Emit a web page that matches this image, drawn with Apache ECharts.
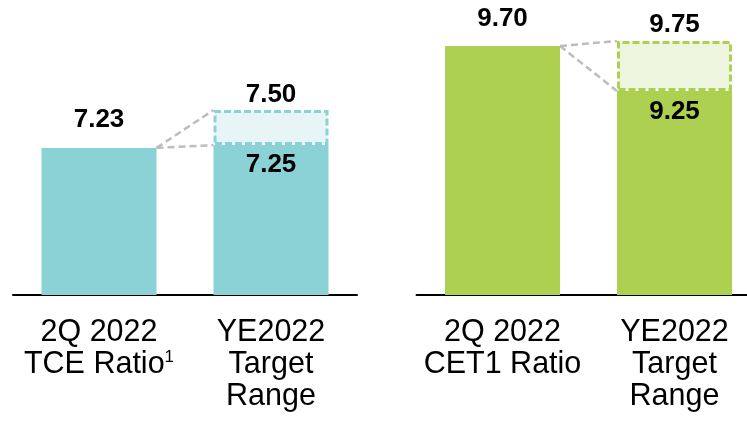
<!DOCTYPE html>
<html>
<head>
<meta charset="utf-8">
<script src="https://cdn.jsdelivr.net/npm/echarts@6/dist/echarts.min.js"></script>
<style>
  html, body { margin: 0; padding: 0; background: #ffffff; }
  #chart { width: 747px; height: 422px; }
</style>
</head>
<body>
<div id="chart"></div>
<script>
// Capital ratios: current level vs. year-end target range
const tceCategories = ['2Q 2022\nTCE Ratio{sup|1}', 'YE2022\nTarget\nRange'];
const cet1Categories = ['2Q 2022\nCET1 Ratio', 'YE2022\nTarget\nRange'];

const tceActual = [7.23, null];
const tceTargetLow = [null, 7.25];
const tceTargetHigh = [null, 7.50];

const cet1Actual = [9.70, null];
const cet1TargetLow = [null, 9.25];
const cet1TargetHigh = [null, 9.75];

const FONT = "'Liberation Sans', Arial, sans-serif";
const BAR_W = 115;

const TEAL = '#8BD2D6';
const TEAL_LIGHT = '#E7F5F6';
const GREEN = '#ADD051';
const GREEN_LIGHT = '#EEF5DF';
const CONNECTOR = '#BDBDBD';

function fmt(v) { return v.toFixed(2); }

// Builds the series for one panel: solid bars, dashed target band, connector lines
function panelSeries(idx, actual, low, high, color, light, dist) {
  const solid = actual.map((v, i) => {
    if (v != null) {
      return { value: v, label: { show: true, position: 'top', distance: dist.top, formatter: () => fmt(v) } };
    }
    return { value: low[i], label: { show: true, position: 'insideTop', distance: dist.inside, formatter: () => fmt(low[i]) } };
  });
  const band = high.map((h, i) => (h == null ? '-' : {
    value: h - low[i],
    label: { show: true, position: 'top', distance: dist.band, formatter: () => fmt(h) }
  }));
  const a = actual.findIndex(v => v != null);
  const t = high.findIndex(v => v != null);
  const links = [
    [a, actual[a], t, high[t]],
    [a, actual[a], t, low[t]]
  ];
  const labelStyle = { fontFamily: FONT, fontSize: 26, fontWeight: 'bold', color: '#000000' };
  return [
    {
      type: 'bar', xAxisIndex: idx, yAxisIndex: idx, stack: 'p' + idx,
      barWidth: BAR_W, data: solid,
      itemStyle: { color: color },
      label: labelStyle,
      silent: true, z: 2
    },
    {
      type: 'bar', xAxisIndex: idx, yAxisIndex: idx, stack: 'p' + idx,
      barWidth: BAR_W, data: band,
      itemStyle: { color: light, borderColor: color, borderWidth: 3, borderType: [7, 3] },
      label: labelStyle,
      silent: true, z: 3
    },
    {
      type: 'custom', xAxisIndex: idx, yAxisIndex: idx,
      data: links, encode: { x: [0, 2], y: [1, 3] },
      silent: true, z: 4,
      renderItem: function (params, api) {
        const p0 = api.coord([api.value(0), api.value(1)]);
        const p1 = api.coord([api.value(2), api.value(3)]);
        return {
          type: 'line',
          shape: { x1: p0[0] + BAR_W / 2, y1: p0[1], x2: p1[0] - BAR_W / 2, y2: p1[1] },
          style: { stroke: CONNECTOR, lineWidth: 2.5, lineDash: [7, 4] }
        };
      }
    }
  ];
}

function catAxis(idx, cats) {
  return {
    type: 'category', gridIndex: idx, data: cats,
    axisLine: { lineStyle: { color: '#000000', width: 2 } },
    axisTick: { show: false },
    axisLabel: {
      fontFamily: FONT, fontSize: 30.5, lineHeight: 32, color: '#000000',
      margin: 22, interval: 0,
      rich: { sup: { fontFamily: FONT, fontSize: 17, lineHeight: 20, verticalAlign: 'top', color: '#000000' } }
    }
  };
}

function valAxis(idx, min, max) {
  return {
    type: 'value', gridIndex: idx, min: min, max: max,
    show: false, splitLine: { show: false }
  };
}

const option = {
  backgroundColor: '#ffffff',
  animation: false,
  grid: [
    { left: 13, width: 344, top: 5, bottom: 127, outerBoundsMode: 'none' },
    { left: 416.5, width: 344, top: 5, bottom: 127, outerBoundsMode: 'none' }
  ],
  xAxis: [catAxis(0, tceCategories), catAxis(1, cet1Categories)],
  yAxis: [valAxis(0, 6.18, 8.25), valAxis(1, 7.21, 10.11)],
  series: [
    ...panelSeries(0, tceActual, tceTargetLow, tceTargetHigh, TEAL, TEAL_LIGHT, { top: 15, inside: 7, band: 2 }),
    ...panelSeries(1, cet1Actual, cet1TargetLow, cet1TargetHigh, GREEN, GREEN_LIGHT, { top: 14, inside: 8, band: 3 })
  ]
};

const chart = echarts.init(document.getElementById('chart'), null, { renderer: 'canvas' });
chart.setOption(option);
</script>
</body>
</html>
